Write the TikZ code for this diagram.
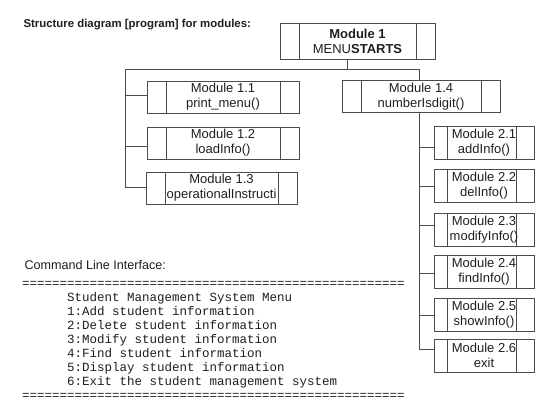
\documentclass[tikz,border=0pt]{standalone}
\usepackage{fontspec}
\setmainfont{Liberation Sans}
\setmonofont{Liberation Mono}
\usetikzlibrary{positioning}
\definecolor{linegray}{gray}{0.3}
\definecolor{textgray}{gray}{0.12}
\newcommand{\modfont}{\fontsize{13}{15}\selectfont}
\tikzstyle{modbox} = [draw=linegray, line width=0.6pt, inner sep=0pt, align=center, text=textgray, font=\modfont, minimum height=32pt,
  path picture={\draw[linegray, line width=0.6pt] ([xshift=19pt]path picture bounding box.north west) -- ([xshift=19pt]path picture bounding box.south west)
    ([xshift=-19pt]path picture bounding box.north east) -- ([xshift=-19pt]path picture bounding box.south east);}]
\tikzstyle{subbox} = [draw=linegray, line width=0.6pt, inner sep=0pt, align=center, text=textgray, font=\modfont, minimum height=33pt, minimum width=100pt,
  path picture={\draw[linegray, line width=0.6pt] ([xshift=13pt]path picture bounding box.north west) -- ([xshift=13pt]path picture bounding box.south west)
    ([xshift=-18pt]path picture bounding box.north east) -- ([xshift=-18pt]path picture bounding box.south east);}]
\tikzstyle{link} = [draw=linegray, line width=0.6pt]

\begin{document}
\begin{tikzpicture}[x=1pt,y=-1pt]
  \useasboundingbox (0,0) rectangle (553,402);
  % heading
  \node[anchor=west, text=textgray, font=\fontsize{11.4}{13}\selectfont\bfseries] (title) at (20,25) {Structure diagram [program] for modules:};

  % modules, first level
  \node[modbox, minimum width=155pt, minimum height=36pt] (m1) at (357.5,41) {\textbf{Module 1}\\MENU\textbf{STARTS}};
  \node[modbox, minimum width=152pt] (m11) at (223,97) {Module 1.1\\print\_menu()};
  \node[modbox, minimum width=152pt] (m12) at (223,143) {Module 1.2\\loadInfo()};
  \node[modbox, minimum width=151pt] (m13) at (221.5,188) {Module 1.3\\operationalInstructi};
  \node[modbox, minimum width=158pt] (m14) at (421,96.5) {Module 1.4\\numberIsdigit()};

  % modules, second level
  \foreach \n/\y/\txt in {1/143/addInfo(), 2/185.5/delInfo(), 3/229.5/modifyInfo(), 4/272/findInfo(), 5/314.5/showInfo(), 6/355.5/exit}
    \node[subbox] (m2\n) at (484,\y) {Module 2.\n\\\txt};

  % tree lines
  \coordinate (split) at ([xshift=-10.5pt]m1.south |- 0,69);
  \coordinate (lft) at (125,69);
  \coordinate (trunk) at ([xshift=-2pt]m14.south);
  \draw[link] ([xshift=-10.5pt]m1.south) -- (split);
  \draw[link] ([xshift=-2pt]m14.north) |- (lft) |- ([yshift=1pt]m13.west);
  \draw[link] ([yshift=2pt]m11.west) -- ([yshift=2pt]m11.west -| lft);
  \draw[link] ([yshift=-3pt]m12.west) -- ([yshift=-3pt]m12.west -| lft);
  \draw[link] (trunk) |- ([yshift=6pt]m26.west);
  \foreach \n/\s in {1/-4, 2/-1, 3/4.5, 4/-1, 5/-0.5}
    \draw[link] ([yshift=\s pt]m2\n.west) -- ([yshift=\s pt]m2\n.west -| trunk);

  % command line part
  \node[anchor=west, text=textgray, font=\fontsize{12.6}{14}\selectfont] (cli) at (21,265) {Command Line Interface:};
  \node[anchor=north west, inner sep=0pt, align=left, text=textgray, font=\ttfamily\fontsize{12.5}{14}\selectfont] (menu) at (22,281) {%
    ===================================================\\
    \hspace*{45pt}Student Management System Menu\\
    \hspace*{45pt}1:Add student information\\
    \hspace*{45pt}2:Delete student information\\
    \hspace*{45pt}3:Modify student information\\
    \hspace*{45pt}4:Find student information\\
    \hspace*{45pt}5:Display student information\\
    \hspace*{45pt}6:Exit the student management system\\
    ===================================================};
\end{tikzpicture}
\end{document}
